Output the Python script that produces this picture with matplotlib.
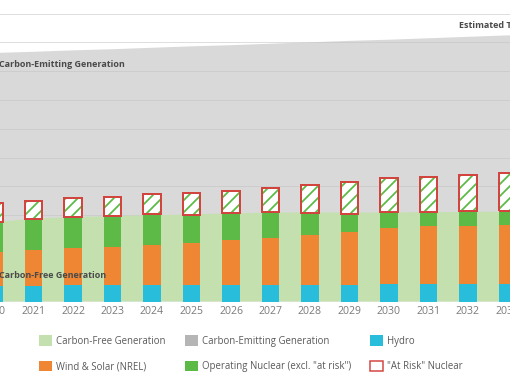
import matplotlib
matplotlib.use("Agg")
import matplotlib.pyplot as plt
from matplotlib.patches import Patch
import numpy as np

# ---------------- data (TWh) ----------------
years = [2020, 2021, 2022, 2023, 2024, 2025, 2026, 2027, 2028, 2029, 2030, 2031, 2032, 2033]
hydro = [275, 275, 280, 280, 285, 285, 290, 290, 295, 295, 300, 300, 300, 300]
wind_solar = [580, 620, 655, 670, 695, 735, 770, 820, 855, 920, 980, 1010, 1015, 1030]
nuclear_operating = [530, 535, 530, 540, 535, 480, 470, 450, 380, 300, 280, 250, 260, 245]
nuclear_at_risk = [320, 320, 325, 330, 345, 385, 390, 415, 495, 565, 590, 595, 620, 650]
carbon_free_total = [1375, 1440, 1465, 1483, 1497, 1513, 1530, 1542, 1548, 1545, 1546, 1550, 1555, 1560]
total_generation = [4315, 4335, 4360, 4380, 4405, 4430, 4450, 4475, 4500, 4525, 4545, 4570, 4595, 4620]
grid_values = [500, 1000, 1500, 2000, 2500, 3000, 3500, 4000, 4500, 5000]

legend_labels = ["Carbon-Free Generation", "Wind & Solar (NREL)",
                 "Carbon-Emitting Generation", 'Operating Nuclear (excl. "at risk")',
                 "Hydro", '"At Risk" Nuclear']

# ---------------- style ----------------
C_FREE = "#c4e0ae"
C_EMIT = "#d9d9d9"
C_EMIT_LEG = "#b5b5b5"
C_HYDRO = "#28bedb"
C_WS = "#ef8634"
C_NUC = "#5dba46"
C_RISK = "#d2443e"
TXT = "#4a4a4a"

plt.rcParams["font.family"] = ["Open Sans", "DejaVu Sans"]
plt.rcParams["hatch.linewidth"] = 1.8

W, H, DPI = 510, 382, 72
fig = plt.figure(figsize=(W / DPI, H / DPI), dpi=DPI)

# axes geometry in pixels (chart is cropped on left and right)
ax_left_px, ax_right_px = -40, 510
base_px = 301.5
ax = fig.add_axes([ax_left_px / W, (H - base_px) / H,
                   (ax_right_px - ax_left_px) / W, base_px / H])

x0_px, step_px = 33.5, 39.5          # 2021 centre and category spacing
def px_to_year(px):
    return 2021 + (px - x0_px) / step_px
unit_px = 28.8                        # pixels per 500 TWh
ax.set_xlim(px_to_year(ax_left_px), px_to_year(ax_right_px))
ax.set_ylim(0, base_px / unit_px * 500)

yrs = np.array(years, dtype=float)
xl = ax.get_xlim()
x_ext = np.concatenate([[xl[0]], yrs, [xl[1]]])
def ext(v):
    v = list(v)
    return np.array([v[0]] + v + [v[-1]], dtype=float)

# areas
ax.fill_between(x_ext, 0, ext(total_generation), color=C_EMIT, lw=0, zorder=1)
ax.fill_between(x_ext, 0, ext(carbon_free_total), color=C_FREE, lw=0, zorder=2)

# grid
ax.set_yticks(grid_values)
ax.yaxis.grid(True, color="#c4c4c4", alpha=0.55, lw=1)
ax.set_axisbelow("line")

# stacked bars
bw = 0.445
h = np.array(hydro, float)
ws = np.array(wind_solar, float)
no = np.array(nuclear_operating, float)
nr = np.array(nuclear_at_risk, float)
ax.bar(yrs, h, bw, color=C_HYDRO, lw=0, zorder=3)
ax.bar(yrs, ws, bw, bottom=h, color=C_WS, lw=0, zorder=3)
ax.bar(yrs, no, bw, bottom=h + ws, color=C_NUC, lw=0, zorder=3)
ax.bar(yrs, nr, bw, bottom=h + ws + no, facecolor="white", edgecolor=C_NUC,
       hatch="//", lw=0, zorder=3)
ax.bar(yrs, nr, bw, bottom=h + ws + no, facecolor="none", edgecolor=C_RISK,
       lw=2, zorder=4)

# axis cosmetics
for s in ax.spines.values():
    s.set_visible(False)
ax.set_xticks(years)
ax.set_xticklabels([str(y) for y in years])
ax.tick_params(axis="x", length=0, pad=4, labelsize=10.5, labelcolor="#7a7a7a")
ax.tick_params(axis="y", length=0, labelleft=False)

# in-chart labels
lab_fs = 9
ax.text(px_to_year(-1), 4106, "Carbon-Emitting Generation", fontsize=lab_fs,
        fontweight="bold", color=TXT, ha="left", va="center", zorder=5)
ax.text(px_to_year(-1), 443, "Carbon-Free Generation", fontsize=lab_fs,
        fontweight="bold", color=TXT, ha="left", va="center", zorder=5)
ax.text(px_to_year(459), 4800, "Estimated Total Generation", fontsize=lab_fs,
        fontweight="bold", color=TXT, ha="left", va="center", zorder=5)

# legend
handles = [Patch(facecolor=C_FREE, edgecolor="none"),
           Patch(facecolor=C_WS, edgecolor="none"),
           Patch(facecolor=C_EMIT_LEG, edgecolor="none"),
           Patch(facecolor=C_NUC, edgecolor="none"),
           Patch(facecolor=C_HYDRO, edgecolor="none"),
           Patch(facecolor="white", edgecolor=C_RISK, lw=1.5)]
fs = 9.6
fig.legend(handles, legend_labels, ncol=3, loc="upper left",
           bbox_to_anchor=(39 / W, 1 - 335 / H), frameon=False,
           borderpad=0, borderaxespad=0, fontsize=fs, labelcolor="#5a5a5a",
           handlelength=13 / fs, handleheight=13 / fs, handletextpad=4 / fs,
           columnspacing=19 / fs, labelspacing=14 / fs)

fig.savefig("out.png", dpi=DPI)
